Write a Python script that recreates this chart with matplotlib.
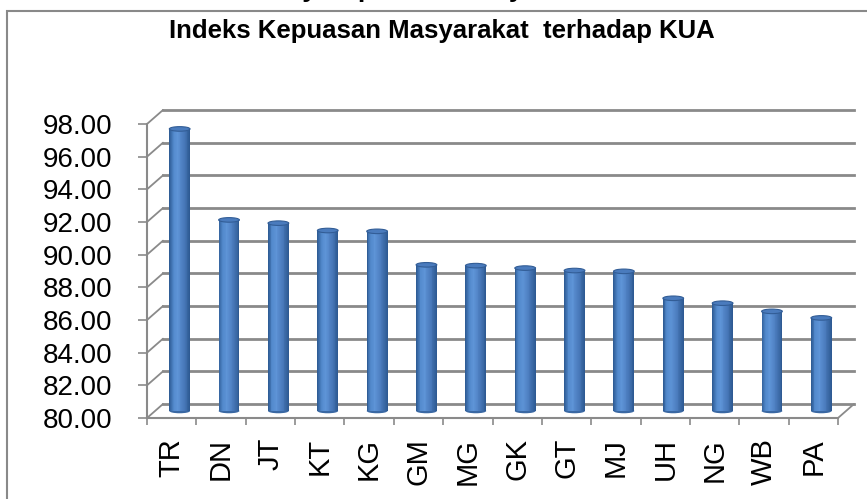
import numpy as np
import matplotlib
matplotlib.use('Agg')
import matplotlib.pyplot as plt
from matplotlib import transforms
from matplotlib.patches import Ellipse, Rectangle
from matplotlib.colors import LinearSegmentedColormap

categories = ['TR', 'DN', 'JT', 'KT', 'KG', 'GM', 'MG', 'GK', 'GT', 'MJ', 'UH', 'NG', 'WB', 'PA']
values = [97.27, 91.70, 91.50, 91.05, 91.00, 88.95, 88.90, 88.75, 88.60, 88.55, 86.90, 86.60, 86.10, 85.70]
yticks = [80, 82, 84, 86, 88, 90, 92, 94, 96, 98]
title = 'Indeks Kepuasan Masyarakat  terhadap KUA'
top_text = 'Survey Kepuasan Masyarakat'

plt.rcParams['font.family'] = ['Liberation Sans', 'DejaVu Sans']

fig = plt.figure(figsize=(8.67, 4.99), dpi=100)
ax = fig.add_axes([147/867, 81/499, 691/867, 294/499])
ax.patch.set_visible(False)
n = len(categories)
ax.set_xlim(-0.5, n - 0.5)
ax.set_ylim(80, 98)

# fake 3d: back wall and bar depth shifted in pixels
back = transforms.offset_copy(ax.transData, fig=fig, x=16, y=14, units='dots')
mid = transforms.offset_copy(ax.transData, fig=fig, x=8, y=7, units='dots')

gridc = '#8a8a8a'
for yv in yticks:
    ax.plot([-0.5, n - 0.5], [yv, yv], color=gridc, lw=2.0, transform=back,
            zorder=1, clip_on=False)
    ax.annotate('', xy=(-0.5, yv), xytext=(16, 14), textcoords='offset pixels',
                arrowprops=dict(arrowstyle='-', color=gridc, lw=1.3, shrinkA=0, shrinkB=0),
                annotation_clip=False)
ax.annotate('', xy=(n - 0.5, 80), xytext=(16, 14), textcoords='offset pixels',
            arrowprops=dict(arrowstyle='-', color=gridc, lw=1.3, shrinkA=0, shrinkB=0),
            annotation_clip=False)

# cylinders
x = np.arange(n)
vals = np.array(values)
w = 0.42
eh = 0.28
cmap = LinearSegmentedColormap.from_list('cyl', [(0, '#2b5890'), (0.2, '#5289cc'),
                                                 (0.4, '#5e94d7'), (0.72, '#4878b9'),
                                                 (1.0, '#2c5890')])
nstrip = 24
for k in range(nstrip):
    offs = -w/2 + (k + 0.5) * w / nstrip
    ax.bar(x + offs, vals - 80, width=w / nstrip * 1.1, bottom=80,
           color=cmap((k + 0.5) / nstrip), lw=0, transform=mid, zorder=3, clip_on=False)
for xi, v in zip(x, vals):
    ax.add_patch(Ellipse((xi, 80), w, eh, facecolor='#3a68a3', edgecolor='none',
                         transform=mid, zorder=2.9, clip_on=False))
    ax.add_patch(Ellipse((xi, v), w, eh, facecolor='#4a7bbd', edgecolor='#325d96',
                         lw=0.8, transform=mid, zorder=4, clip_on=False))

ax.set_yticks(yticks)
ax.set_yticklabels(['%.2f' % t for t in yticks], fontsize=20)
ax.tick_params(axis='y', length=6.5, width=1.2, color=gridc, pad=18.5)
ax.set_xticks(x)
ax.set_xticklabels(categories, rotation=90, fontsize=21)
ax.tick_params(axis='x', which='major', length=0, pad=14.4)
ax.set_xticks(np.arange(-0.5, n, 1), minor=True)
ax.tick_params(axis='x', which='minor', length=5, width=1.2, color=gridc)

for s in ['top', 'right']:
    ax.spines[s].set_visible(False)
for s in ['left', 'bottom']:
    ax.spines[s].set_color(gridc)
    ax.spines[s].set_linewidth(1.5)

fig.text(442/867, 1 - 38/499, title, ha='center', va='baseline',
         fontsize=18.5, fontweight='bold')
fig.text(229/867, 1 + 2.5/499, top_text, ha='left', va='baseline',
         fontsize=19, fontweight='bold')

fig.add_artist(Rectangle((7/867, -0.05), 1.0, 1 - 10.5/499 + 0.05, transform=fig.transFigure,
                         fill=False, edgecolor='#898989', lw=1.5))

fig.savefig('out.png', dpi=100)
